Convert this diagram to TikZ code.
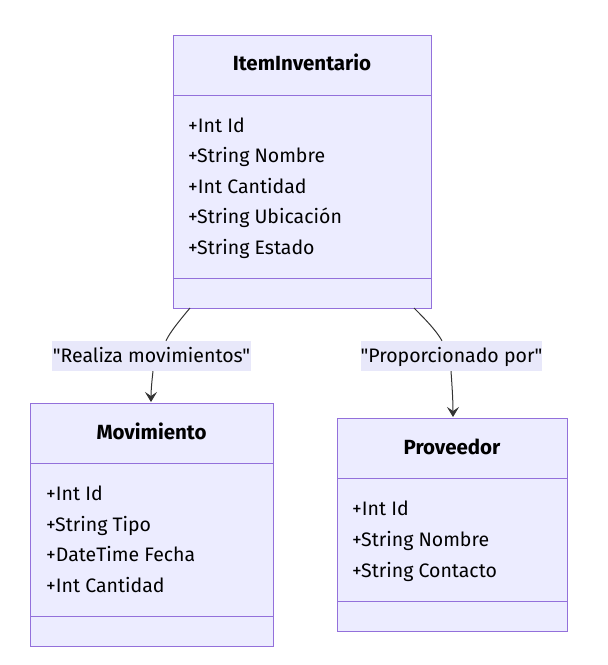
\documentclass[tikz,border=0pt]{standalone}
\usepackage{fontspec}
\setmainfont{Fira Sans}[Ligatures=TeXOff]
\usetikzlibrary{arrows.meta}
\definecolor{boxfill}{HTML}{ECECFF}
\definecolor{boxline}{HTML}{9370DB}
\definecolor{lblbg}{HTML}{E8E8FA}
\definecolor{edge}{HTML}{333333}
\tikzset{
  cls/.style={draw=boxline, fill=boxfill, line width=1pt},
  sep/.style={draw=boxline, line width=1pt},
  ttl/.style={font=\fontsize{20.5}{22}\selectfont\bfseries, text=black, text height=13pt, text depth=4pt, inner sep=0pt},
  attr/.style={font=\fontsize{19.5}{22}\selectfont, anchor=west, text=black, inner sep=0pt, text height=13pt, text depth=1pt},
  lbl/.style={font=\fontsize{19.5}{22}\selectfont, fill=lblbg, inner sep=0pt, text=black, text height=13pt, text depth=1pt},
  conn/.style={draw=edge, line width=1pt, -{Stealth[length=10pt,width=12pt,inset=4pt]}},
}
\begin{document}
\begin{tikzpicture}[x=1pt,y=-1pt]
\useasboundingbox (0,0) rectangle (608,665);
% ItemInventario
\path[cls] (173,35) rectangle (431,308);
\draw[sep] (173,95) -- (431,95);
\draw[sep] (173,278) -- (431,278);
\node[ttl] (t1) at (302,66) {ItemInventario};
\node[attr] (a11) at (188,126) {+Int Id};
\node[attr] (a12) at (188,156) {+String Nombre};
\node[attr] (a13) at (188,187) {+Int Cantidad};
\node[attr] (a14) at (188,217) {+String Ubicación};
\node[attr] (a15) at (188,248) {+String Estado};
\coordinate (i1) at (190,308);
\coordinate (i2) at (414,308);
% Movimiento
\path[cls] (30,403) rectangle (273,646);
\draw[sep] (30,463) -- (273,463);
\draw[sep] (30,616) -- (273,616);
\node[ttl] (t2) at (151.5,435) {Movimiento};
\node[attr] (a21) at (46,494) {+Int Id};
\node[attr] (a22) at (46,525) {+String Tipo};
\node[attr] (a23) at (46,555) {+DateTime Fecha};
\node[attr] (a24) at (46,586) {+Int Cantidad};
\coordinate (m1) at (151,402);
% Proveedor
\path[cls] (337,418) rectangle (567,631);
\draw[sep] (337,478) -- (567,478);
\draw[sep] (337,601) -- (567,601);
\node[ttl] (t3) at (452,450) {Proveedor};
\node[attr] (a31) at (352,509) {+Int Id};
\node[attr] (a32) at (352,540) {+String Nombre};
\node[attr] (a33) at (352,571) {+String Contacto};
\coordinate (p1) at (453,417);
% labels
\node[lbl, minimum width=199pt, minimum height=30pt] (l1) at (151.5,356) {"Realiza movimientos"};
\node[lbl, minimum width=181pt, minimum height=30pt] (l2) at (451.5,356) {"Proporcionado por"};
% connectors
\draw[draw=edge, line width=1pt] (i1) .. controls (180,320) and (170,332) .. (l1.north -| 166,0);
\draw[conn] (l1.south -| 153,0) .. controls (152,380) and (151,390) .. (m1);
\draw[draw=edge, line width=1pt] (i2) .. controls (424,318) and (436,330) .. (l2.north -| 442,0);
\draw[conn] (l2.south -| 451,0) .. controls (452,385) and (453,400) .. (p1);
\end{tikzpicture}
\end{document}
